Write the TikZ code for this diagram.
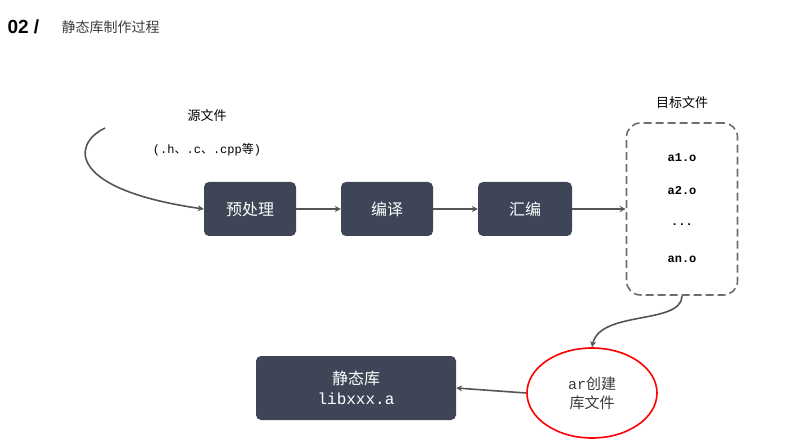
\documentclass[tikz,border=0pt]{standalone}
\usepackage{fontspec}
\setmainfont{Liberation Sans}
\newfontfamily\cjk{Noto Sans CJK SC}
\setmonofont{Liberation Mono}
\usetikzlibrary{arrows.meta,shapes.geometric}
\begin{document}
\begin{tikzpicture}[x=1pt,y=-1pt,
  stepbox/.style={draw=none,fill={rgb,255:red,61;green,69;blue,86},rounded corners=5pt,text=white,font=\cjk\fontsize{16}{18}\selectfont,align=center,inner sep=0pt},
  conn/.style={draw={rgb,255:red,85;green,85;blue,85},line width=1.6pt,-{Stealth[length=6pt,width=6pt]}},
  obj/.style={font=\ttfamily\bfseries\fontsize{12}{14}\selectfont}]
\useasboundingbox (0,0) rectangle (791,443);
\node[anchor=west,font=\bfseries\fontsize{19}{22}\selectfont] (num) at (4,27) {02 /};
\node[anchor=west,font=\cjk\fontsize{14}{16}\selectfont,text={rgb,255:red,60;green,60;blue,60}] (title) at (58,27) {静态库制作过程};
\node[font=\cjk\fontsize{13}{15}\selectfont] (src) at (207,116) {源文件};
\node[font=\ttfamily\fontsize{12}{14}\selectfont] (srcx) at (207,150) {(.h{\cjk 、}.c{\cjk 、}.cpp{\cjk 等})};
\node[stepbox,minimum width=92pt,minimum height=54pt] (pre) at (250,209) {预处理};
\node[stepbox,minimum width=92pt,minimum height=54pt] (cmp) at (387,209) {编译};
\node[stepbox,minimum width=94pt,minimum height=54pt] (asm) at (525,209) {汇编};
\node[draw={rgb,255:red,110;green,110;blue,110},dashed,dash pattern=on 8pt off 4pt,line width=1.6pt,rounded corners=14pt,minimum width=111pt,minimum height=172pt] (objs) at (682,209) {};
\node[font=\cjk\fontsize{13}{15}\selectfont] (objt) at (682,103) {目标文件};
\node[obj] (o1) at (682,158) {a1.o};
\node[obj] (o2) at (682,191) {a2.o};
\node[obj] (o3) at (682,225) {...};
\node[obj] (o4) at (682,259) {an.o};
\node[draw=red,line width=1.6pt,ellipse,minimum width=130pt,minimum height=90pt,align=center,font=\fontsize{15}{19}\selectfont,text={rgb,255:red,60;green,60;blue,60}] (ar) at (592,393) {{\ttfamily ar}{\cjk 创建}\\{\cjk 库文件}};
\node[stepbox,minimum width=200pt,minimum height=64pt,font=\fontsize{16}{20}\selectfont] (lib) at (356,388) {{\cjk 静态库}\\{\ttfamily libxxx.a}};
\coordinate (s0) at (105,128);
\draw[conn] (s0) .. controls (70,145) and (70,190) .. (pre.west);
\draw[conn] (pre) -- (cmp);
\draw[conn] (cmp) -- (asm);
\draw[conn] (asm) -- (objs.west);
\draw[conn] (objs.south) .. controls (682,325) and (600,310) .. (ar.north);
\draw[conn] (ar.west) -- (lib.east);
\end{tikzpicture}
\end{document}
